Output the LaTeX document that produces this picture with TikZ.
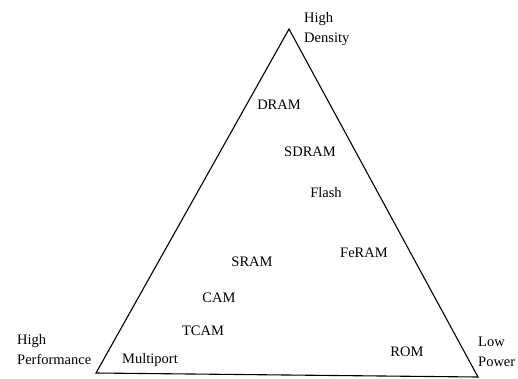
\documentclass[tikz,border=0pt]{standalone}
\usepackage{fontspec}
\setmainfont{Liberation Serif}
\begin{document}
\begin{tikzpicture}[x=1pt, y=-1pt,
  mem/.style={inner sep=0pt, font=\fontsize{14.5}{20}\selectfont},
  corner/.style={mem, anchor=west, align=left}]
  \useasboundingbox (0,0) rectangle (518,378);
  % triangle
  \coordinate (top) at (289,29);
  \coordinate (left) at (96,373);
  \coordinate (right) at (478,377);
  \draw[line width=1.1pt] (left) -- (top) -- (right) -- cycle;
  % corner labels
  \node[corner] (density) at (304,29) {High\\Density};
  \node[corner] (perf) at (17,350) {High\\Performance};
  \node[corner] (power) at (478,352) {Low\\Power};
  % memories
  \node[mem] (dram) at (279,105) {DRAM};
  \node[mem] (sdram) at (310,152) {SDRAM};
  \node[mem] (flash) at (326,193) {Flash};
  \node[mem] (feram) at (364,253) {FeRAM};
  \node[mem] (sram) at (252,262) {SRAM};
  \node[mem] (cam) at (219,298) {CAM};
  \node[mem] (tcam) at (203,331) {TCAM};
  \node[mem] (multi) at (150,360) {Multiport};
  \node[mem] (rom) at (407,352) {ROM};
\end{tikzpicture}
\end{document}
